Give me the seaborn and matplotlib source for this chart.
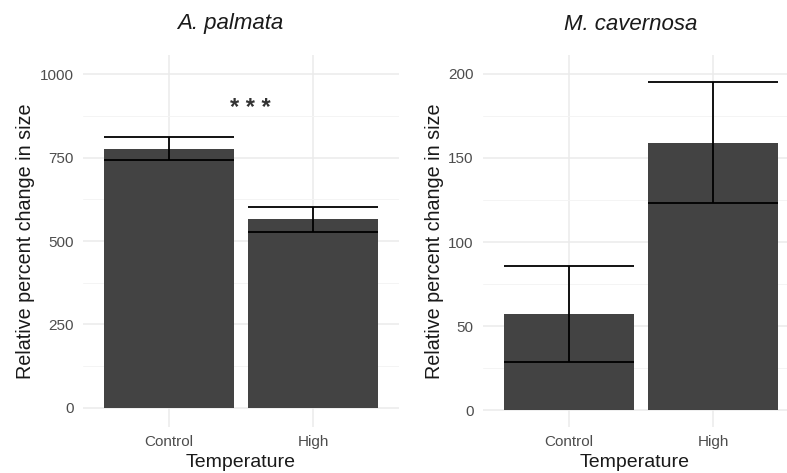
import matplotlib
matplotlib.use("Agg")
import matplotlib.pyplot as plt
import seaborn as sns
import pandas as pd
import numpy as np

# Data
categories = ["Control", "High"]
palmata_mean = [776, 565]
palmata_se = [34, 38]
cavernosa_mean = [57, 159]
cavernosa_se = [28.5, 36]
titles = ["A. palmata", "M. cavernosa"]
palmata_ticks = [0, 250, 500, 750, 1000]
cavernosa_ticks = [0, 50, 100, 150, 200]
palmata_minor = [125, 375, 625, 875]
cavernosa_minor = [25, 75, 125, 175]
signif_label = "* * *"
signif_x = 0.567
signif_y = 878

sns.set_theme(style="white")
plt.rcParams['font.family'] = ['Liberation Sans', 'DejaVu Sans']

fig = plt.figure(figsize=(7.87, 4.73), dpi=100)
W, H = 787, 473

def px_axes(x0, x1, ytop, ybot):
    return fig.add_axes([x0 / W, (H - ybot) / H, (x1 - x0) / W, (ybot - ytop) / H])

ax1 = px_axes(82.6, 399.4, 55, 427)
ax2 = px_axes(482.6, 787, 55, 427)

bar_color = "#434343"
grid_major = "#EBEBEB"
grid_minor = "#F4F4F4"

def draw(ax, means, ses, ticks, minor, ylim, xlim, title, title_x):
    df = pd.DataFrame({"Temperature": categories, "value": means})
    sns.barplot(data=df, x="Temperature", y="value", ax=ax, color=bar_color,
                width=0.9, errorbar=None, saturation=1, zorder=2)
    for p in ax.patches:
        p.set_edgecolor("none")
    xs = np.arange(len(categories))
    lo = np.array(means) - np.array(ses)
    hi = np.array(means) + np.array(ses)
    ax.vlines(xs, lo, hi, color="black", lw=1.3, zorder=3)
    ax.hlines(lo, xs - 0.45, xs + 0.45, color="black", lw=1.3, zorder=3)
    ax.hlines(hi, xs - 0.45, xs + 0.45, color="black", lw=1.3, zorder=3)
    ax.set_ylim(*ylim)
    ax.set_xlim(*xlim)
    ax.set_yticks(ticks)
    ax.set_yticklabels([str(t) for t in ticks])
    ax.set_yticks(minor, minor=True)
    ax.grid(True, which="major", color=grid_major, lw=1.1, zorder=0)
    ax.grid(True, which="minor", axis="y", color=grid_minor, lw=0.7, zorder=0)
    ax.set_axisbelow(True)
    for s in ax.spines.values():
        s.set_visible(False)
    ax.tick_params(axis="both", which="both", length=0, labelsize=11, labelcolor="#4D4D4D")
    ax.tick_params(axis="y", pad=6.5)
    ax.tick_params(axis="x", pad=6)
    ax.set_xlabel("Temperature", fontsize=14, color="#1A1A1A", labelpad=3)
    ax.set_ylabel("Relative percent change in size", fontsize=14.2, color="#1A1A1A", labelpad=3)
    fig.text(title_x / W, 1 - 24 / H, title, ha="center", va="center",
             fontsize=16, style="italic", color="#1A1A1A")

draw(ax1, palmata_mean, palmata_se, palmata_ticks, palmata_minor,
     (-57, 1057), (-0.6, 1.6), titles[0], 230)
draw(ax2, cavernosa_mean, cavernosa_se, cavernosa_ticks, cavernosa_minor,
     (-10.1, 211.3), (-0.6, 1.514), titles[1], 631)

ax1.text(signif_x, signif_y, signif_label, ha="center", va="baseline", fontsize=17,
         fontweight="bold", color="#333333", zorder=4)

fig.savefig("out.png", dpi=100, facecolor="white")
